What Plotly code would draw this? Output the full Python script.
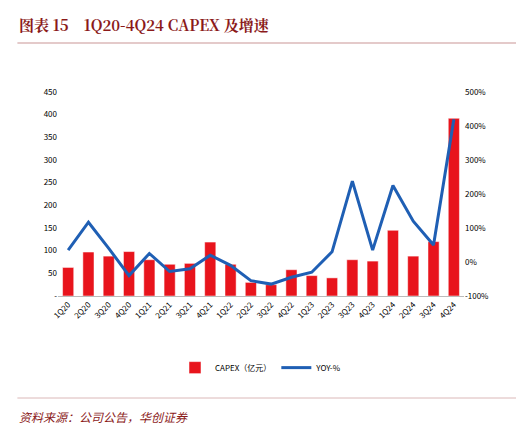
import plotly.graph_objects as go

quarters = ["1Q20", "2Q20", "3Q20", "4Q20", "1Q21", "2Q21", "3Q21", "4Q21", "1Q22", "2Q22",
            "3Q22", "4Q22", "1Q23", "2Q23", "3Q23", "4Q23", "1Q24", "2Q24", "3Q24", "4Q24"]
capex = [63, 97, 88, 98, 80, 70, 72, 119, 70, 30, 25, 58, 45, 40, 80, 77, 145, 88, 120, 392]
yoy = [35, 117, 40, -40, 25, -28, -20, 20, -10, -55, -65, -45, -30, 30, 238, 35, 225, 120, 50, 420]

left_ticks = [0, 50, 100, 150, 200, 250, 300, 350, 400, 450]
left_labels = ["-"] + [str(v) for v in left_ticks[1:]]
right_ticks = [-100, 0, 100, 200, 300, 400, 500]
right_labels = [f"{v}%" for v in right_ticks]

fig = go.Figure()
fig.add_trace(go.Bar(x=quarters, y=capex, name="CAPEX（亿元）", marker_color="#e8141c", width=0.55))
fig.add_trace(go.Scatter(x=quarters, y=yoy, name="YOY-%", yaxis="y2", mode="lines",
                         line=dict(color="#1f5fb4", width=3)))

font = "Noto Sans CJK SC"
fig.update_layout(
    width=524, height=428, template="simple_white",
    font=dict(family=font, size=9, color="black"),
    margin=dict(l=50, r=68, t=84, b=140),
    bargap=0.4,
    xaxis=dict(tickangle=-45, ticks="", showline=True, linecolor="#bbbbbb", tickfont=dict(size=8)),
    yaxis=dict(range=[0, 450], tickvals=left_ticks, ticktext=left_labels, showline=False,
               ticks="", tickfont=dict(size=8)),
    yaxis2=dict(overlaying="y", side="right", range=[-100, 500], tickvals=right_ticks,
                ticktext=right_labels, showline=False, ticks="", tickfont=dict(size=8)),
    legend=dict(orientation="h", x=0.5, xanchor="center", y=-0.28, yanchor="top",
                font=dict(size=8)),
    showlegend=True,
)
fig.add_annotation(text="<b>图表 15    1Q20-4Q24 CAPEX 及增速</b>", xref="paper", yref="paper",
                   x=-0.1, y=1.27, xanchor="left", yanchor="bottom", showarrow=False,
                   font=dict(size=15, color="#8b1a1a", family="Noto Serif CJK SC, " + font))
fig.add_shape(type="line", xref="paper", yref="paper", x0=-0.1, x1=1.16, y0=1.24, y1=1.24,
              line=dict(color="#8b1a1a", width=1.5))
fig.add_shape(type="line", xref="paper", yref="paper", x0=-0.1, x1=1.16, y0=-0.5, y1=-0.5,
              line=dict(color="#8b1a1a", width=1))
fig.add_annotation(text="<i>资料来源：公司公告，华创证券</i>", xref="paper", yref="paper",
                   x=-0.1, y=-0.54, xanchor="left", yanchor="top", showarrow=False,
                   font=dict(size=12, color="#8b1a1a"))
fig.write_html("out.html")
